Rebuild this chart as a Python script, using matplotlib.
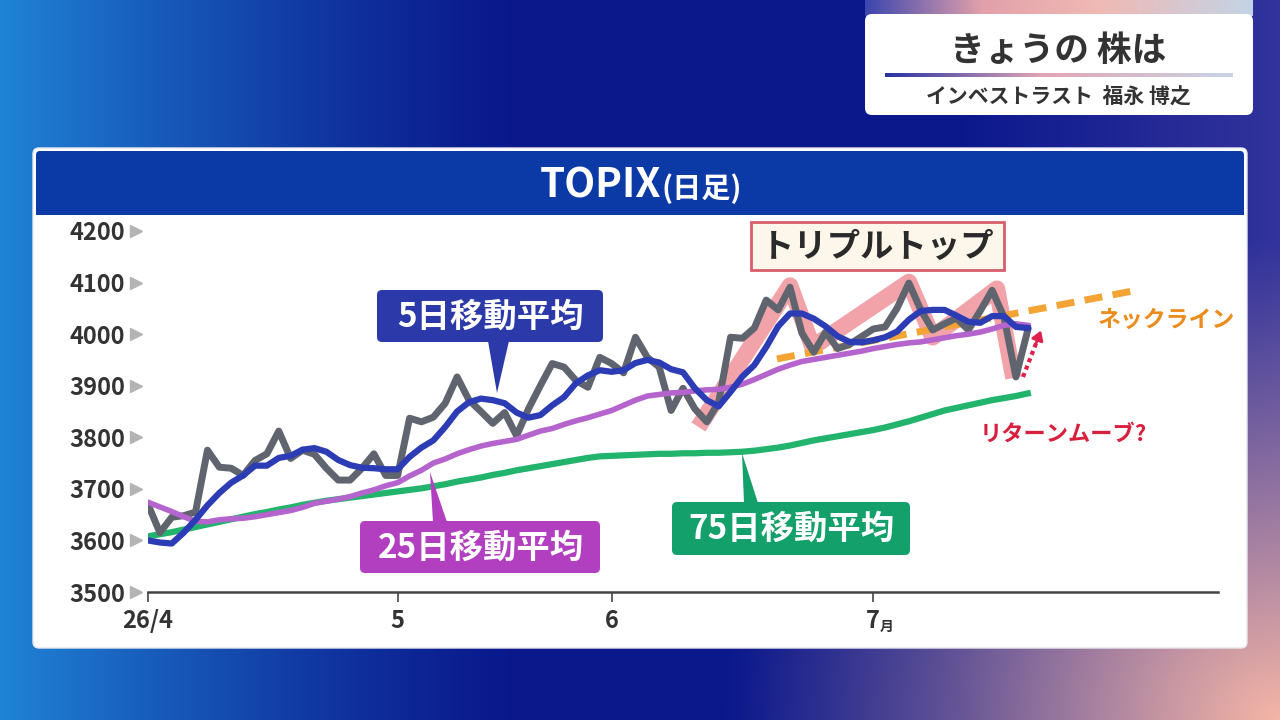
import numpy as np
import matplotlib
matplotlib.use("Agg")
import matplotlib.pyplot as plt
from matplotlib.patches import FancyBboxPatch, Polygon, Rectangle
from matplotlib.transforms import blended_transform_factory

plt.rcParams['font.family'] = ['Noto Sans CJK JP', 'DejaVu Sans']

# ---------------- data (trading-day index 0 = early April 2026) ----------------
close = [3670, 3615, 3645, 3648, 3655, 3775, 3742, 3740, 3726, 3755,
         3768, 3812, 3759, 3775, 3767, 3740, 3717, 3717, 3740, 3768,
         3726, 3726, 3837, 3830, 3839, 3866, 3917, 3872, 3850, 3827,
         3848, 3803, 3855, 3900, 3943, 3936, 3910, 3897, 3955, 3943,
         3925, 3994, 3955, 3936, 3852, 3895, 3855, 3830, 3868, 3994,
         3992, 4012, 4066, 4047, 4091, 4002, 3965, 4004, 3972, 3980,
         3995, 4010, 4014, 4050, 4099, 4047, 4008, 4020, 4031, 4008,
         4045, 4085, 4033, 3917, 4008]

ma5 = [3600, 3596, 3594, 3615, 3640, 3668, 3692, 3712, 3726, 3745,
       3745, 3760, 3764, 3776, 3779, 3772, 3756, 3746, 3741, 3740,
       3738, 3738, 3762, 3780, 3794, 3820, 3850, 3868, 3875, 3872,
       3866, 3848, 3838, 3843, 3862, 3878, 3905, 3920, 3930, 3927,
       3930, 3944, 3950, 3945, 3932, 3926, 3895, 3872, 3860, 3888,
       3918, 3940, 3975, 4015, 4040, 4040, 4030, 4015, 3996, 3985,
       3984, 3988, 3994, 4005, 4028, 4045, 4047, 4047, 4036, 4024,
       4022, 4035, 4035, 4014, 4012]

ma25 = [3674, 3665, 3656, 3646, 3637, 3636, 3640, 3642, 3643, 3646,
        3650, 3654, 3658, 3664, 3672, 3676, 3680, 3685, 3692, 3698,
        3706, 3712, 3725, 3736, 3750, 3758, 3768, 3776, 3783, 3788,
        3792, 3796, 3804, 3812, 3817, 3825, 3832, 3838, 3845, 3852,
        3862, 3872, 3880, 3883, 3886, 3887, 3890, 3892, 3893, 3897,
        3903, 3912, 3922, 3932, 3940, 3947, 3951, 3955, 3959, 3963,
        3967, 3972, 3976, 3980, 3983, 3985, 3989, 3993, 3997, 4000,
        4004, 4010, 4017, 4020, 4017]

ma75 = [3608, 3612, 3616, 3621, 3626, 3631, 3636, 3641, 3646, 3651,
        3655, 3660, 3664, 3669, 3673, 3677, 3680, 3683, 3686, 3689,
        3692, 3695, 3698, 3701, 3705, 3709, 3714, 3718, 3722, 3727,
        3731, 3736, 3740, 3744, 3748, 3752, 3756, 3760, 3763, 3764,
        3765, 3766, 3767, 3768, 3768, 3769, 3769, 3770, 3770, 3771,
        3772, 3774, 3777, 3780, 3784, 3789, 3794, 3798, 3802, 3806,
        3810, 3814, 3819, 3825, 3831, 3838, 3845, 3852, 3857, 3862,
        3867, 3872, 3876, 3880, 3885]

tick_pos = [0, 21, 39, 61]
tick_labels = ['26/4', '5', '6', '7']
y_ticks = [3500, 3600, 3700, 3800, 3900, 4000, 4100, 4200]

# annotation geometry (in data units)
triple_x = [46.3, 54.0, 55.9, 64.0, 66.0, 71.4, 72.8]
triple_y = [3820, 4094, 3975, 4101, 3994, 4088, 3915]
neck_x = [52.9, 82.9]
neck_y = [3952, 4084]
ret_x = [73.6, 75.2]
ret_y = [3917, 4012]

W, H = 1280, 720
fig = plt.figure(figsize=(12.8, 7.2), dpi=100)

# ---------------- background ----------------
bg = fig.add_axes([0, 0, 1, 1], zorder=0)
bg.set_xlim(0, W); bg.set_ylim(H, 0); bg.axis('off')
yy, xx = np.mgrid[0:H:2, 0:W:2].astype(float)
navy = np.array([10, 24, 140]) / 255
blue = np.array([32, 132, 214]) / 255
pink = np.array([246, 182, 166]) / 255
purp = np.array([100, 85, 175]) / 255
img = np.ones(xx.shape + (3,)) * navy
wb = np.clip(1 - xx / 520, 0, 1) ** 1.3
img = img + (blue - navy) * wb[..., None]
wr = np.clip((xx - 950) / 330, 0, 1) * 0.45
img = img * (1 - wr[..., None]) + purp * wr[..., None]
d = np.sqrt((xx - 1280) ** 2 / 560 ** 2 + (yy - 720) ** 2 / 480 ** 2)
wp = np.clip(1 - d, 0, 1) ** 1.1
img = img * (1 - wp[..., None]) + pink * wp[..., None]
bg.imshow(np.clip(img, 0, 1), extent=[0, W, H, 0], aspect='auto', zorder=0)

# header card
grad = np.linspace(0, 1, 256)
def grad_row(stops):
    pos = [s[0] for s in stops]
    cols = np.array([s[1] for s in stops]) / 255
    r = np.stack([np.interp(grad, pos, cols[:, k]) for k in range(3)], axis=-1)
    return r[None, :, :]
strip = grad_row([(0, (60, 70, 175)), (0.3, (225, 160, 170)), (0.6, (240, 185, 180)), (1, (195, 212, 230))])
bg.imshow(strip, extent=[865, 1253, 16, 0], aspect='auto', zorder=1)
bg.add_patch(FancyBboxPatch((865, 14), 388, 101, boxstyle='round,pad=0,rounding_size=7',
                            fc='white', ec='none', zorder=2))
uline = grad_row([(0, (40, 50, 165)), (0.45, (225, 165, 180)), (1, (200, 212, 228))])
bg.imshow(uline, extent=[885, 1233, 77, 73], aspect='auto', zorder=3)
bg.text(1058, 50, 'きょうの 株は', fontsize=25, fontweight='bold', color='#333333',
        ha='center', va='center', zorder=4)
bg.text(1058, 97, 'インベストラスト  福永 博之', fontsize=15, fontweight='bold', color='#333333',
        ha='center', va='center', zorder=4)

# chart panel
bg.add_patch(FancyBboxPatch((33, 148), 1214, 500, boxstyle='round,pad=0,rounding_size=6',
                            fc='white', ec='#e8e8f0', lw=1, zorder=2))
bg.add_patch(FancyBboxPatch((36, 151), 1208, 64, boxstyle='round,pad=0,rounding_size=4',
                            fc='#0b3aa6', ec='none', zorder=3))
bg.add_patch(Rectangle((36, 200), 1208, 15, fc='#0b3aa6', ec='none', zorder=3))
bg.text(661, 198, 'TOPIX', fontsize=29, color='white', fontweight='bold', ha='right', va='baseline', zorder=4)
bg.text(661, 198, '(日足)', fontsize=21, color='white', fontweight='bold', ha='left', va='baseline', zorder=4)

# ---------------- chart axes ----------------
ax = fig.add_axes([148 / W, 1 - 592 / H, 1070 / W, (592 - 231) / H], zorder=1)
ax.patch.set_alpha(0)
ax.set_xlim(0, 90)
ax.set_ylim(3500, 4200)
for s in ['top', 'right', 'left']:
    ax.spines[s].set_visible(False)
ax.spines['bottom'].set_color('#444444')
ax.spines['bottom'].set_linewidth(1.8)
ax.set_yticks(y_ticks)
ax.set_yticklabels([str(v) for v in y_ticks], fontsize=17, color='#333333', fontweight='bold')
ax.tick_params(axis='y', length=0, pad=16.5)
ax.set_xticks(tick_pos)
ax.set_xticklabels(tick_labels, fontsize=17, color='#333333', fontweight='bold')
ax.tick_params(axis='x', length=7, width=1.2, color='#444444', pad=5, direction='out')
tr = blended_transform_factory(ax.transAxes, ax.transData)
ax.plot([-0.0115] * len(y_ticks), y_ticks, ls='none', marker='>', ms=8, color='#b4b4b4',
        transform=tr, clip_on=False)

days = np.arange(len(close))
ax.plot(triple_x, triple_y, color='#f2a3aa', lw=12, solid_joinstyle='round',
        solid_capstyle='butt', zorder=1)
ax.plot(neck_x, neck_y, color='#f4a434', lw=5, dashes=(2.6, 1.5), zorder=2)
ax.plot(np.arange(len(ma75)), ma75, color='#22b46c', lw=4.5, solid_joinstyle='round', zorder=3)
ax.plot(days, close, color='#60646f', lw=5, solid_joinstyle='round', zorder=4)
ax.plot(np.arange(len(ma25)), ma25, color='#b464cc', lw=4, solid_joinstyle='round', zorder=5)
ax.plot(np.arange(len(ma5)), ma5, color='#2c3cb4', lw=4.5, solid_joinstyle='round', zorder=6)

# return-move arrow
rx0, rx1 = ret_x; ry0, ry1 = ret_y
mx, my = rx0 + (rx1 - rx0) * 0.72, ry0 + (ry1 - ry0) * 0.72
ax.plot([rx0, mx], [ry0, my], color='#e0204a', lw=3, ls=(0, (1, 0.9)), zorder=7)
ax.annotate('', xy=(rx1, ry1), xytext=(rx0 + (rx1 - rx0) * 0.62, ry0 + (ry1 - ry0) * 0.62),
            arrowprops=dict(arrowstyle='-|>,head_length=0.55,head_width=0.35', color='#e0204a', lw=2),
            zorder=7)

# ---------------- overlay annotations ----------------
ov = fig.add_axes([0, 0, 1, 1], zorder=2)
ov.patch.set_alpha(0)
ov.set_xlim(0, W); ov.set_ylim(H, 0); ov.axis('off')

def callout(x0, y0, x1, y1, color, text, base, tip, tx):
    ov.add_patch(FancyBboxPatch((x0, y0), x1 - x0, y1 - y0, boxstyle='round,pad=0,rounding_size=5',
                                fc=color, ec='none', zorder=3))
    ov.add_patch(Polygon([base[0], base[1], tip], closed=True, fc=color, ec='none', zorder=3))
    ov.text(tx, (y0 + y1) / 2 + 1, text, fontsize=24, fontweight='bold', color='white',
            ha='center', va='center', zorder=4)

callout(377, 290, 603, 342, '#2c3aa9', '5日移動平均', [(488, 341), (509, 341)], (497, 393), 490)
callout(360, 521, 600, 573, '#b13fbf', '25日移動平均', [(433, 522), (447, 522)], (430, 472), 481)
callout(672, 502, 910, 555, '#13a06a', '75日移動平均', [(744, 503), (758, 503)], (742, 453), 791)

ov.add_patch(Rectangle((751, 222), 253, 48, fc='#fdf6ea', ec='#d75f6c', lw=2, zorder=3))
ov.text(878, 247, 'トリプルトップ', fontsize=24, fontweight='bold', color='#2a2a2a',
        ha='center', va='center', zorder=4)
ov.text(1166, 320, 'ネックライン', fontsize=16.5, fontweight='bold', color='#ea8d1e',
        ha='center', va='center', zorder=4)
ov.text(1063, 434, 'リターンムーブ?', fontsize=16, fontweight='bold', color='#d8203e',
        ha='center', va='center', zorder=4)
ov.text(880, 631, '月', fontsize=10, color='#333333', fontweight='bold', ha='left', va='baseline', zorder=4)

fig.savefig('out.png', dpi=100)
